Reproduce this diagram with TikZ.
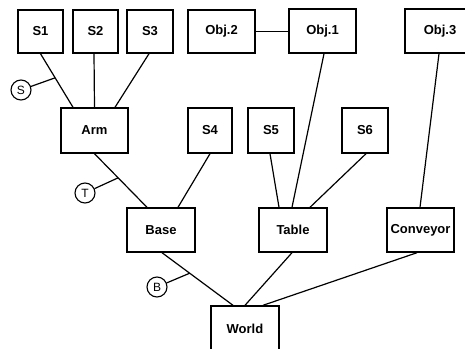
\documentclass[tikz,border=0pt]{standalone}
\usepackage{fontspec}
\setmainfont{Liberation Sans}
\begin{document}
\begin{tikzpicture}[x=1pt,y=-1pt,
  box/.style={draw,line width=1.4pt,inner sep=0pt,font=\fontsize{13}{15}\selectfont\bfseries},
  lbl/.style={draw,circle,line width=1.1pt,inner sep=0pt,minimum size=20pt,font=\fontsize{12}{13}\selectfont},
  conn/.style={line width=1.2pt}]
\useasboundingbox (0,0) rectangle (465,348);
\node[box,minimum width=45pt,minimum height=43pt] (S1) at (40.5,31.5) {S1};
\node[box,minimum width=45pt,minimum height=43pt] (S2) at (95.5,31.5) {S2};
\node[box,minimum width=46pt,minimum height=43pt] (S3) at (150,31.5) {S3};
\node[box,minimum width=67pt,minimum height=43pt] (Obj2) at (221.5,31.5) {Obj.2};
\node[box,minimum width=67pt,minimum height=44pt] (Obj1) at (322.5,31) {Obj.1};
\node[box,minimum width=70pt,minimum height=44pt] (Obj3) at (440,31) {Obj.3};
\node[box,minimum width=67pt,minimum height=45pt] (Arm) at (94.5,130.5) {Arm};
\node[box,minimum width=44pt,minimum height=45pt] (S4) at (210,130.5) {S4};
\node[box,minimum width=46pt,minimum height=45pt] (S5) at (271,130.5) {S5};
\node[box,minimum width=46pt,minimum height=45pt] (S6) at (365,130.5) {S6};
\node[box,minimum width=68pt,minimum height=44pt] (Base) at (161,230) {Base};
\node[box,minimum width=68pt,minimum height=44pt] (Table) at (293,230) {Table};
\node[box,minimum width=67pt,minimum height=44pt] (Conveyor) at (420.5,230) {Conveyor};
\node[box,minimum width=68pt,minimum height=45pt] (World) at (245,328.5) {World};
\node[lbl] (LS) at (21,90) {S};
\node[lbl] (LT) at (85,193) {T};
\node[lbl] (LB) at (157,287) {B};
% connectors
\draw[conn] (S1.south) -- coordinate[pos=0.45] (js) ([xshift=-21.5pt]Arm.north);
\draw[conn] ([xshift=-1.5pt]S2.south) -- (Arm.north);
\draw[conn] ([xshift=-1pt]S3.south) -- ([xshift=20.5pt]Arm.north);
\draw[conn] (LS) -- (js);
\draw[conn] (Arm.south) -- coordinate[pos=0.45] (jt) ([xshift=-14pt]Base.north);
\draw[conn] (S4.south) -- ([xshift=17pt]Base.north);
\draw[conn] (LT) -- (jt);
\draw[conn] ([xshift=1pt]Base.south) -- coordinate[pos=0.39] (jb) ([xshift=-12pt]World.north);
\draw[conn] (LB) -- (jb);
\draw[conn] (Obj2.east) -- (Obj2.east -| Obj1.west);
\draw[conn] ([xshift=1.5pt]Obj1.south) -- ([xshift=-1pt]Table.north);
\draw[conn] ([xshift=-1pt]S5.south) -- ([xshift=-14pt]Table.north);
\draw[conn] ([xshift=1pt]S6.south) -- ([xshift=17pt]Table.north);
\draw[conn] ([xshift=-1pt]Obj3.south) -- ([xshift=-0.5pt]Conveyor.north);
\draw[conn] ([xshift=-1pt]Table.south) -- (World.north);
\draw[conn] ([xshift=-3.5pt]Conveyor.south) -- ([xshift=18pt]World.north);
\end{tikzpicture}
\end{document}
